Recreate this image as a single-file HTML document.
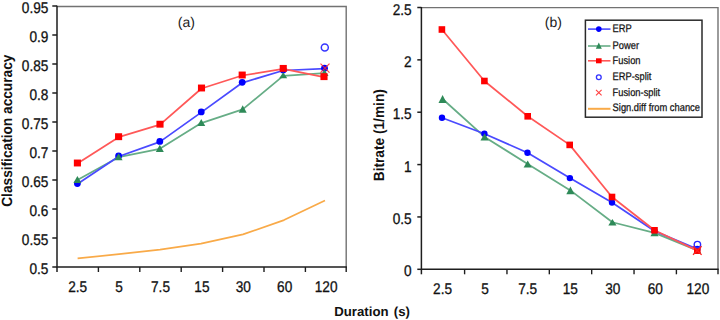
<!DOCTYPE html>
<html><head><meta charset="utf-8">
<style>
html,body{margin:0;padding:0;background:#fff;width:720px;height:320px;overflow:hidden}
svg{display:block}
.t{font-family:"Liberation Sans", sans-serif;fill:#111;stroke:#111;stroke-width:0.3px}
.t2{font-family:"Liberation Sans", sans-serif;font-size:14px;fill:#222}
.lb{font-family:"Liberation Sans", sans-serif;font-size:13px;font-weight:bold;fill:#111}
.lg{font-family:"Liberation Sans", sans-serif;fill:#111;stroke:#111;stroke-width:0.25px}
</style></head><body>
<svg width="720" height="320" viewBox="0 0 720 320" text-rendering="geometricPrecision">
<rect width="720" height="320" fill="#fff"/>
<path d="M57.0 6.5H346.2V267.0" fill="none" stroke="#727272" stroke-width="1.4"/>
<path d="M57.0 5.8V267.0H346.9" fill="none" stroke="#1e1e1e" stroke-width="1.5"/>
<path d="M52.3 267.00H57.0" stroke="#1e1e1e" stroke-width="1.5"/>
<text transform="translate(48.40,274.20) scale(0.88,1)" text-anchor="end" class="t" style="font-size:15.5px">0.5</text>
<path d="M52.3 238.00H57.0" stroke="#1e1e1e" stroke-width="1.5"/>
<text transform="translate(48.40,245.20) scale(0.88,1)" text-anchor="end" class="t" style="font-size:15.5px">0.55</text>
<path d="M52.3 209.00H57.0" stroke="#1e1e1e" stroke-width="1.5"/>
<text transform="translate(48.40,216.20) scale(0.88,1)" text-anchor="end" class="t" style="font-size:15.5px">0.6</text>
<path d="M52.3 180.00H57.0" stroke="#1e1e1e" stroke-width="1.5"/>
<text transform="translate(48.40,187.20) scale(0.88,1)" text-anchor="end" class="t" style="font-size:15.5px">0.65</text>
<path d="M52.3 151.00H57.0" stroke="#1e1e1e" stroke-width="1.5"/>
<text transform="translate(48.40,158.20) scale(0.88,1)" text-anchor="end" class="t" style="font-size:15.5px">0.7</text>
<path d="M52.3 122.00H57.0" stroke="#1e1e1e" stroke-width="1.5"/>
<text transform="translate(48.40,129.20) scale(0.88,1)" text-anchor="end" class="t" style="font-size:15.5px">0.75</text>
<path d="M52.3 93.00H57.0" stroke="#1e1e1e" stroke-width="1.5"/>
<text transform="translate(48.40,100.20) scale(0.88,1)" text-anchor="end" class="t" style="font-size:15.5px">0.8</text>
<path d="M52.3 64.00H57.0" stroke="#1e1e1e" stroke-width="1.5"/>
<text transform="translate(48.40,71.20) scale(0.88,1)" text-anchor="end" class="t" style="font-size:15.5px">0.85</text>
<path d="M52.3 35.00H57.0" stroke="#1e1e1e" stroke-width="1.5"/>
<text transform="translate(48.40,42.20) scale(0.88,1)" text-anchor="end" class="t" style="font-size:15.5px">0.9</text>
<path d="M52.3 6.00H57.0" stroke="#1e1e1e" stroke-width="1.5"/>
<text transform="translate(48.40,13.20) scale(0.88,1)" text-anchor="end" class="t" style="font-size:15.5px">0.95</text>
<path d="M98.40 267.0V272" stroke="#1e1e1e" stroke-width="1.4"/>
<path d="M139.80 267.0V272" stroke="#1e1e1e" stroke-width="1.4"/>
<path d="M181.20 267.0V272" stroke="#1e1e1e" stroke-width="1.4"/>
<path d="M222.60 267.0V272" stroke="#1e1e1e" stroke-width="1.4"/>
<path d="M264.00 267.0V272" stroke="#1e1e1e" stroke-width="1.4"/>
<path d="M305.40 267.0V272" stroke="#1e1e1e" stroke-width="1.4"/>
<path d="M346.20 267.0V272" stroke="#1e1e1e" stroke-width="1.4"/>
<path d="M57.00 267.0V272" stroke="#1e1e1e" stroke-width="1.5"/>
<text transform="translate(77.70,292.10) scale(0.88,1)" text-anchor="middle" class="t" style="font-size:15.5px">2.5</text>
<text transform="translate(119.10,292.10) scale(0.88,1)" text-anchor="middle" class="t" style="font-size:15.5px">5</text>
<text transform="translate(160.50,292.10) scale(0.88,1)" text-anchor="middle" class="t" style="font-size:15.5px">7.5</text>
<text transform="translate(201.90,292.10) scale(0.88,1)" text-anchor="middle" class="t" style="font-size:15.5px">15</text>
<text transform="translate(243.30,292.10) scale(0.88,1)" text-anchor="middle" class="t" style="font-size:15.5px">30</text>
<text transform="translate(284.70,292.10) scale(0.88,1)" text-anchor="middle" class="t" style="font-size:15.5px">60</text>
<text transform="translate(326.10,292.10) scale(0.88,1)" text-anchor="middle" class="t" style="font-size:15.5px">120</text>
<polyline points="77.60,258.40 119.00,254.20 160.00,249.60 201.00,243.60 243.00,234.35 284.00,220.10 325.00,200.60" fill="none" stroke="#f9aa48" stroke-width="1.7" stroke-linejoin="round"/>
<polyline points="77.40,180.05 118.60,157.20 159.80,148.80 201.25,123.05 242.70,109.45 283.20,75.80 324.50,73.20" fill="none" stroke="#66ad86" stroke-width="1.75" stroke-linejoin="round"/>
<polyline points="77.40,184.10 118.60,156.50 159.80,141.90 201.25,112.40 242.20,82.80 283.20,70.50 324.50,68.70" fill="none" stroke="#4a4aff" stroke-width="1.75" stroke-linejoin="round"/>
<polyline points="77.40,163.50 118.60,137.20 160.00,124.70 201.50,88.50 242.20,75.50 283.25,68.90 324.00,77.15" fill="none" stroke="#ff5858" stroke-width="1.75" stroke-linejoin="round"/>
<circle cx="77.40" cy="183.60" r="3.4" fill="#0000ff"/>
<circle cx="118.60" cy="156.00" r="3.4" fill="#0000ff"/>
<circle cx="159.80" cy="141.40" r="3.4" fill="#0000ff"/>
<circle cx="201.25" cy="111.90" r="3.4" fill="#0000ff"/>
<circle cx="242.20" cy="82.30" r="3.4" fill="#0000ff"/>
<circle cx="283.20" cy="70.00" r="3.4" fill="#0000ff"/>
<circle cx="324.50" cy="68.20" r="3.4" fill="#0000ff"/>
<path d="M77.40 176.00L81.40 183.10H73.40Z" fill="#2e8a58"/>
<path d="M118.60 153.20L122.60 160.20H114.60Z" fill="#2e8a58"/>
<path d="M159.80 144.70L163.80 151.90H155.80Z" fill="#2e8a58"/>
<path d="M201.25 119.00L205.25 126.10H197.25Z" fill="#2e8a58"/>
<path d="M242.70 105.20L246.70 112.70H238.70Z" fill="#2e8a58"/>
<path d="M283.20 72.30L287.20 78.30H279.20Z" fill="#2e8a58"/>
<path d="M324.50 69.40L328.50 76.00H320.50Z" fill="#2e8a58"/>
<rect x="73.85" y="159.55" width="7.10" height="6.90" fill="#ff0000"/>
<rect x="115.05" y="133.25" width="7.10" height="6.90" fill="#ff0000"/>
<rect x="156.45" y="120.75" width="7.10" height="6.90" fill="#ff0000"/>
<rect x="197.95" y="84.55" width="7.10" height="6.90" fill="#ff0000"/>
<rect x="238.65" y="71.55" width="7.10" height="6.90" fill="#ff0000"/>
<rect x="279.70" y="64.95" width="7.10" height="6.90" fill="#ff0000"/>
<rect x="320.45" y="73.20" width="7.10" height="6.90" fill="#ff0000"/>
<circle cx="324.80" cy="47.50" r="3.5" fill="none" stroke="#3535ff" stroke-width="1.5"/>
<path d="M320.50 63.70L329.50 72.70M329.50 63.70L320.50 72.70" stroke="rgba(255,40,40,0.85)" stroke-width="1.2"/>
<text x="186.3" y="27.3" text-anchor="middle" class="t2">(a)</text>
<text transform="translate(12.3,130.7) rotate(-90) scale(1,1.08)" text-anchor="middle" class="lb" style="font-size:13.7px">Classification accuracy</text>
<path d="M421.4 7.6H718.0V269.3" fill="none" stroke="#727272" stroke-width="1.4"/>
<path d="M421.4 6.8999999999999995V269.3H718.7" fill="none" stroke="#1e1e1e" stroke-width="1.5"/>
<path d="M417.3 269.30H421.4" stroke="#1e1e1e" stroke-width="1.5"/>
<text transform="translate(411.60,276.30) scale(0.88,1)" text-anchor="end" class="t" style="font-size:15.5px">0</text>
<path d="M417.3 216.94H421.4" stroke="#1e1e1e" stroke-width="1.5"/>
<text transform="translate(411.60,223.94) scale(0.88,1)" text-anchor="end" class="t" style="font-size:15.5px">0.5</text>
<path d="M417.3 164.58H421.4" stroke="#1e1e1e" stroke-width="1.5"/>
<text transform="translate(411.60,171.58) scale(0.88,1)" text-anchor="end" class="t" style="font-size:15.5px">1</text>
<path d="M417.3 112.22H421.4" stroke="#1e1e1e" stroke-width="1.5"/>
<text transform="translate(411.60,119.22) scale(0.88,1)" text-anchor="end" class="t" style="font-size:15.5px">1.5</text>
<path d="M417.3 59.86H421.4" stroke="#1e1e1e" stroke-width="1.5"/>
<text transform="translate(411.60,66.86) scale(0.88,1)" text-anchor="end" class="t" style="font-size:15.5px">2</text>
<path d="M417.3 7.50H421.4" stroke="#1e1e1e" stroke-width="1.5"/>
<text transform="translate(411.60,14.50) scale(0.88,1)" text-anchor="end" class="t" style="font-size:15.5px">2.5</text>
<path d="M464.60 269.3V274.3" stroke="#1e1e1e" stroke-width="1.4"/>
<path d="M506.96 269.3V274.3" stroke="#1e1e1e" stroke-width="1.4"/>
<path d="M549.32 269.3V274.3" stroke="#1e1e1e" stroke-width="1.4"/>
<path d="M591.68 269.3V274.3" stroke="#1e1e1e" stroke-width="1.4"/>
<path d="M634.04 269.3V274.3" stroke="#1e1e1e" stroke-width="1.4"/>
<path d="M676.40 269.3V274.3" stroke="#1e1e1e" stroke-width="1.4"/>
<path d="M718.00 269.3V274.3" stroke="#1e1e1e" stroke-width="1.4"/>
<path d="M421.40 269.3V274.3" stroke="#1e1e1e" stroke-width="1.5"/>
<text transform="translate(442.60,293.90) scale(0.88,1)" text-anchor="middle" class="t" style="font-size:15.5px">2.5</text>
<text transform="translate(485.15,293.90) scale(0.88,1)" text-anchor="middle" class="t" style="font-size:15.5px">5</text>
<text transform="translate(527.70,293.90) scale(0.88,1)" text-anchor="middle" class="t" style="font-size:15.5px">7.5</text>
<text transform="translate(570.25,293.90) scale(0.88,1)" text-anchor="middle" class="t" style="font-size:15.5px">15</text>
<text transform="translate(612.80,293.90) scale(0.88,1)" text-anchor="middle" class="t" style="font-size:15.5px">30</text>
<text transform="translate(655.35,293.90) scale(0.88,1)" text-anchor="middle" class="t" style="font-size:15.5px">60</text>
<text transform="translate(697.90,293.90) scale(0.88,1)" text-anchor="middle" class="t" style="font-size:15.5px">120</text>
<polyline points="442.60,99.00 484.60,136.90 527.70,164.00 570.40,190.40 612.40,222.25 654.50,232.90 697.30,250.40" fill="none" stroke="#66ad86" stroke-width="1.75" stroke-linejoin="round"/>
<polyline points="442.00,117.80 484.40,133.70 527.50,152.75 569.90,178.10 612.00,202.50 654.50,231.00 697.30,249.00" fill="none" stroke="#4a4aff" stroke-width="1.75" stroke-linejoin="round"/>
<polyline points="441.90,29.50 484.40,81.00 527.70,116.30 569.70,144.90 612.00,197.00 654.50,230.30 697.30,250.60" fill="none" stroke="#ff5858" stroke-width="1.75" stroke-linejoin="round"/>
<circle cx="442.00" cy="117.80" r="3.2" fill="#0000ff"/>
<circle cx="484.40" cy="133.70" r="3.2" fill="#0000ff"/>
<circle cx="527.50" cy="152.75" r="3.2" fill="#0000ff"/>
<circle cx="569.90" cy="178.10" r="3.2" fill="#0000ff"/>
<circle cx="612.00" cy="202.50" r="3.2" fill="#0000ff"/>
<circle cx="654.50" cy="231.00" r="3.2" fill="#0000ff"/>
<circle cx="697.30" cy="249.00" r="3.2" fill="#0000ff"/>
<path d="M442.60 95.00L446.70 103.00H438.50Z" fill="#2e8a58"/>
<path d="M484.60 133.20L488.70 140.60H480.50Z" fill="#2e8a58"/>
<path d="M527.70 160.40L531.80 167.60H523.60Z" fill="#2e8a58"/>
<path d="M570.40 186.60L574.50 194.20H566.30Z" fill="#2e8a58"/>
<path d="M612.40 218.90L616.50 225.60H608.30Z" fill="#2e8a58"/>
<path d="M654.50 229.50L658.60 236.30H650.40Z" fill="#2e8a58"/>
<path d="M697.30 247.00L701.40 253.80H693.20Z" fill="#2e8a58"/>
<rect x="438.60" y="26.20" width="6.60" height="6.60" fill="#ff0000"/>
<rect x="481.10" y="77.70" width="6.60" height="6.60" fill="#ff0000"/>
<rect x="524.40" y="113.00" width="6.60" height="6.60" fill="#ff0000"/>
<rect x="566.40" y="141.60" width="6.60" height="6.60" fill="#ff0000"/>
<rect x="608.70" y="193.70" width="6.60" height="6.60" fill="#ff0000"/>
<rect x="651.20" y="227.00" width="6.60" height="6.60" fill="#ff0000"/>
<rect x="694.00" y="247.30" width="6.60" height="6.60" fill="#ff0000"/>
<circle cx="697.40" cy="244.60" r="3.2" fill="none" stroke="#2a2aff" stroke-width="1.4"/>
<path d="M693.00 246.30L701.60 254.90M701.60 246.30L693.00 254.90" stroke="#ff2020" stroke-width="1.3"/>
<text x="553.3" y="27.3" text-anchor="middle" class="t2">(b)</text>
<text transform="translate(384.2,135.2) rotate(-90) scale(1,1.08)" text-anchor="middle" class="lb" style="font-size:13.7px">Bitrate (1/min)</text>
<rect x="585.4" y="20.2" width="116.6" height="97.0" fill="#fff" stroke="#2a2a2a" stroke-width="1.5"/>
<path d="M588.0 29.1H610.5" stroke="#4a4aff" stroke-width="1.6"/>
<circle cx="598.80" cy="29.10" r="2.8" fill="#0000ff"/>
<path d="M588.0 46.0H610.5" stroke="#66ad86" stroke-width="1.6"/>
<path d="M598.80 42.40L601.80 48.80H595.80Z" fill="#2e8a58"/>
<path d="M588.0 60.8H610.5" stroke="#ff5858" stroke-width="1.6"/>
<rect x="596.00" y="58.30" width="5.60" height="5.00" fill="#ff0000"/>
<circle cx="598.80" cy="77.20" r="2.4" fill="none" stroke="#3333ff" stroke-width="1.3"/>
<path d="M596.00 89.80L601.60 95.40M601.60 89.80L596.00 95.40" stroke="#ff4040" stroke-width="1.1"/>
<path d="M588.0 108.8H610.5" stroke="#f9aa48" stroke-width="2"/>
<text transform="translate(612.60,32.20) scale(0.855,1)" text-anchor="start" class="lg" style="font-size:10.9px">ERP</text>
<text transform="translate(612.60,48.80) scale(0.855,1)" text-anchor="start" class="lg" style="font-size:10.9px">Power</text>
<text transform="translate(612.60,63.90) scale(0.855,1)" text-anchor="start" class="lg" style="font-size:10.9px">Fusion</text>
<text transform="translate(612.60,80.30) scale(0.855,1)" text-anchor="start" class="lg" style="font-size:10.9px">ERP-split</text>
<text transform="translate(612.60,96.30) scale(0.855,1)" text-anchor="start" class="lg" style="font-size:10.9px">Fusion-split</text>
<text transform="translate(612.60,111.40) scale(0.855,1)" text-anchor="start" class="lg" style="font-size:10.9px">Sign.diff from chance</text>
<text x="372.1" y="316.4" text-anchor="middle" class="lb" style="font-size:13.2px">Duration <tspan dx="1.6">(s)</tspan></text>
</svg>
</body></html>
